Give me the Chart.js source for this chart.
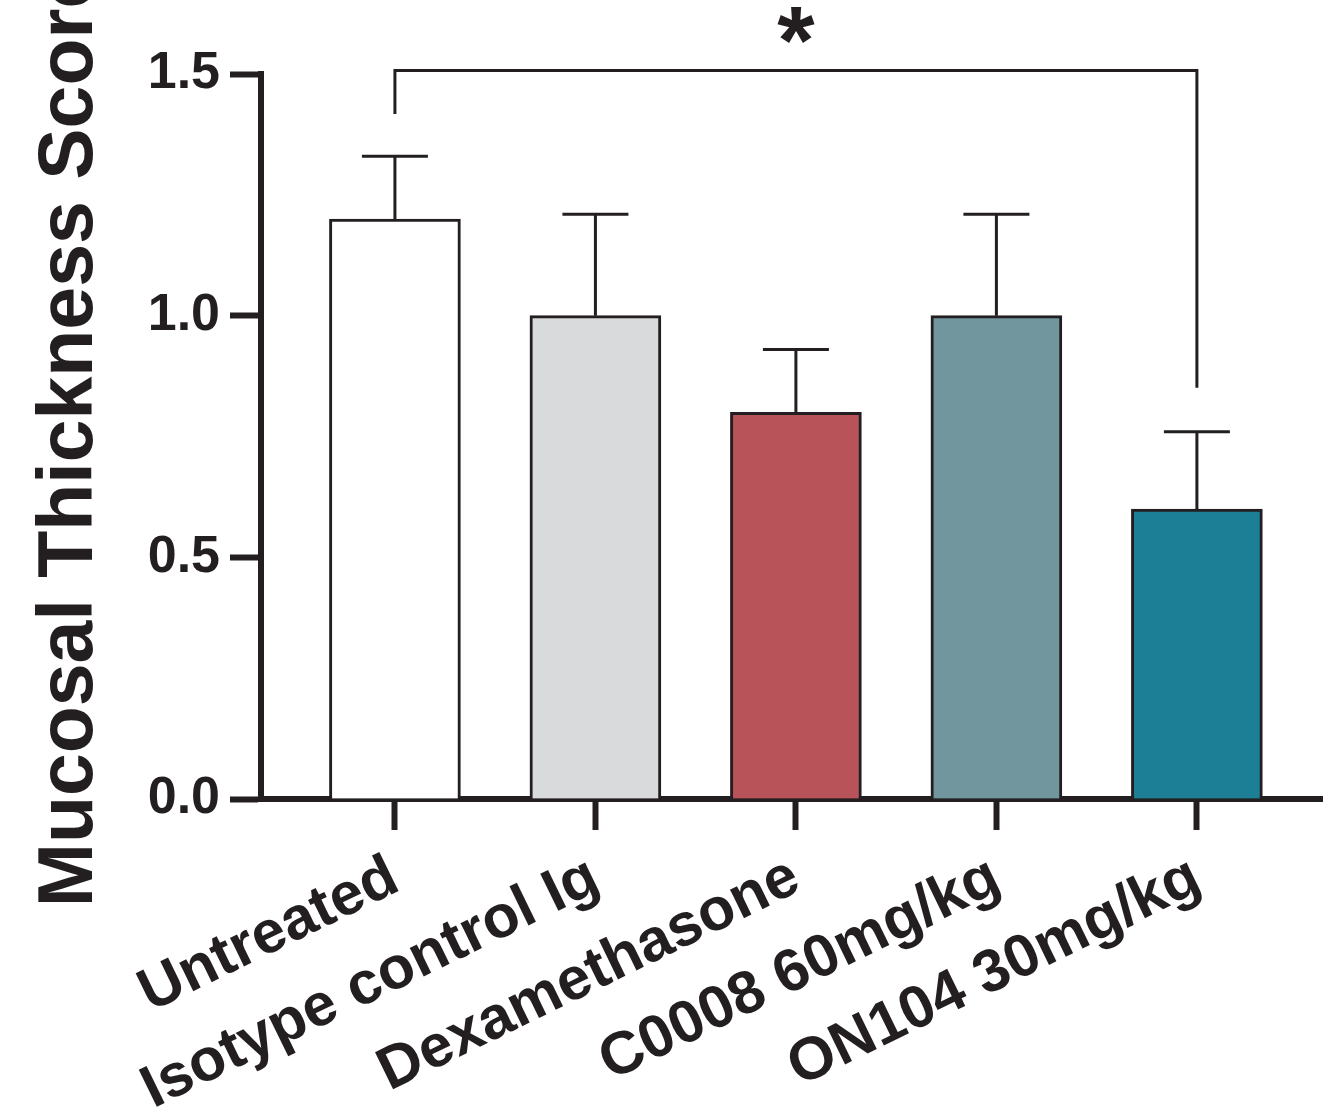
<!DOCTYPE html>
<html>
<head>
<meta charset="utf-8">
<script src="https://cdn.jsdelivr.net/npm/chart.js@4.4.1/dist/chart.umd.min.js"></script>
<style>
  html, body { margin: 0; padding: 0; background: #fff; }
  #wrap { width: 1323px; height: 1120px; }
</style>
</head>
<body>
<div id="wrap"><canvas id="chart"></canvas></div>
<script>
// data
const groups = ['Untreated', 'Isotype control Ig', 'Dexamethasone', 'C0008 60mg/kg', 'ON104 30mg/kg'];
const means = [1.2, 1.0, 0.8, 1.0, 0.6];
const sem = [0.13, 0.21, 0.13, 0.21, 0.16];
const fills = ['#ffffff', '#d9dadc', '#b85459', '#71969e', '#1c7f96'];
const yTicks = [0, 0.5, 1.0, 1.5];

// significance bracket Untreated vs ON104
const sigPair = [0, 4];
const sigLevels = [1.417, 1.507, 0.851]; // left foot, bar, right foot
const sigLabel = '*';

const INK = '#231f20';
const FONT = '"Liberation Sans", Arial, Helvetica, sans-serif';

const errorBars = {
  id: 'errorBars',
  afterDatasetsDraw(chart) {
    const { ctx, scales: { x, y } } = chart;
    ctx.save();
    ctx.strokeStyle = INK;
    ctx.lineWidth = 3;
    means.forEach((m, i) => {
      const px = x.getPixelForValue(i);
      const base = y.getPixelForValue(m);
      const top = y.getPixelForValue(m + sem[i]);
      ctx.beginPath();
      ctx.moveTo(px, base);
      ctx.lineTo(px, top);
      ctx.moveTo(px - 33, top);
      ctx.lineTo(px + 33, top);
      ctx.stroke();
    });
    ctx.restore();
  }
};

const sigBracket = {
  id: 'sigBracket',
  afterDraw(chart) {
    const { ctx, scales: { x, y } } = chart;
    const x0 = x.getPixelForValue(sigPair[0]);
    const x1 = x.getPixelForValue(sigPair[1]);
    const yl = y.getPixelForValue(sigLevels[0]);
    const yb = y.getPixelForValue(sigLevels[1]);
    const yr = y.getPixelForValue(sigLevels[2]);
    ctx.save();
    ctx.strokeStyle = INK;
    ctx.lineWidth = 3;
    ctx.beginPath();
    ctx.moveTo(x0, yl);
    ctx.lineTo(x0, yb);
    ctx.lineTo(x1, yb);
    ctx.lineTo(x1, yr);
    ctx.stroke();
    ctx.fillStyle = INK;
    ctx.font = 'bold 96px ' + FONT;
    ctx.textAlign = 'center';
    ctx.textBaseline = 'alphabetic';
    ctx.fillText(sigLabel, (x0 + x1) / 2, yb + 2);
    ctx.restore();
  }
};

new Chart(document.getElementById('chart'), {
  type: 'bar',
  data: {
    datasets: [{
      data: means.map((m, i) => ({ x: i, y: m })),
      backgroundColor: fills,
      borderColor: INK,
      borderWidth: 3,
      borderSkipped: 'bottom',
      barThickness: 131
    }]
  },
  options: {
    responsive: true,
    maintainAspectRatio: false,
    animation: false,
    layout: { padding: { top: 74, right: 0, bottom: 0, left: 0 } },
    plugins: { legend: { display: false }, tooltip: { enabled: false } },
    scales: {
      x: {
        type: 'linear',
        offset: false,
        min: -0.668,
        max: 4.629,
        afterBuildTicks: s => { s.ticks = groups.map((g, i) => ({ value: i })); },
        afterFit: s => { s.height = 321; },
        border: { display: true, width: 6, color: INK },
        grid: { display: true, offset: false, drawOnChartArea: false, drawTicks: true, tickLength: 31, tickWidth: 6, tickColor: INK },
        ticks: {
          autoSkip: false,
          minRotation: 26,
          maxRotation: 26,
          padding: 12,
          color: INK,
          font: { family: FONT, size: 60, weight: 'bold' },
          callback: v => groups[v]
        }
      },
      y: {
        min: 0,
        max: 1.5,
        afterBuildTicks: s => { s.ticks = yTicks.map(v => ({ value: v })); },
        afterFit: s => { s.width = 261; },
        border: { display: true, width: 6, color: INK },
        grid: { display: true, drawOnChartArea: false, drawTicks: true, tickLength: 31, tickWidth: 6, tickColor: INK },
        ticks: {
          padding: 10,
          color: INK,
          font: { family: FONT, size: 52, weight: 'bold' },
          callback: v => v.toFixed(1)
        },
        title: {
          display: true,
          text: 'Mucosal Thickness Score',
          color: INK,
          font: { family: FONT, size: 77, weight: 'bold', lineHeight: 1 },
          padding: { top: 32, bottom: 0 }
        }
      }
    }
  },
  plugins: [errorBars, sigBracket]
});
</script>
</body>
</html>
